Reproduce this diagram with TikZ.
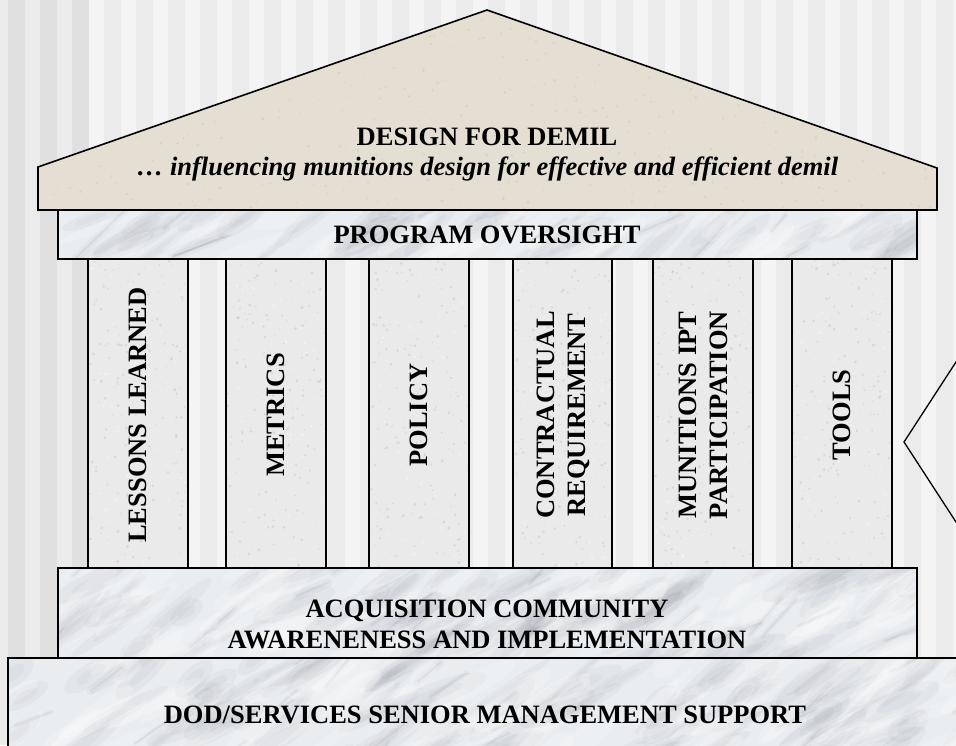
\documentclass[tikz,border=0pt]{standalone}
\usepackage{fontspec}
\setmainfont{Liberation Serif}

\definecolor{stripelight}{RGB}{244,244,244}
\definecolor{stripemid}{RGB}{235,235,235}
\definecolor{stripedark}{RGB}{224,224,224}
\definecolor{roofbeige}{RGB}{228,222,211}
\definecolor{roofgrain}{RGB}{196,186,170}
\definecolor{marblebase}{RGB}{234,237,240}
\definecolor{marblevein}{RGB}{105,110,118}
\definecolor{pillarstone}{RGB}{234,234,234}
\definecolor{pillargrain}{RGB}{185,185,185}

% cloudy marble: soft grey patches and a few thin veins; x1 y1 x2 y2 patches veins
\newcommand\marbleveins[6]{%
  \begin{scope}
    \clip (#1,#2) rectangle (#3,#4);
    \foreach \k in {1,...,#5}{
      \pgfmathsetmacro\vx{#1+rnd*(#3-#1)}
      \pgfmathsetmacro\vy{#2+rnd*(#4-#2)}
      \pgfmathsetmacro\ra{18+rnd*45}
      \pgfmathsetmacro\rb{4+rnd*9}
      \pgfmathsetmacro\ang{20+rnd*25}
      \fill[marblevein,opacity=0.05,rotate around={\ang:(\vx,\vy)}] (\vx,\vy) ellipse[x radius=\ra pt,y radius=\rb pt];
      \pgfmathsetmacro\rc{0.55*\ra}
      \pgfmathsetmacro\rd{0.5*\rb}
      \fill[marblevein,opacity=0.05,rotate around={\ang:(\vx,\vy)}] (\vx,\vy) ellipse[x radius=\rc pt,y radius=\rd pt];
    }
    \foreach \k in {1,...,#6}{
      \pgfmathsetmacro\vx{#1+rnd*(#3-#1)}
      \pgfmathsetmacro\vy{#2+rnd*(#4-#2)}
      \pgfmathsetmacro\vl{20+rnd*50}
      \pgfmathsetmacro\va{20+rnd*30}
      \pgfmathsetmacro\vw{0.8+rnd*1.6}
      \pgfmathsetmacro\vww{4*\vw}
      \draw[marblevein,opacity=0.05,line width=\vww pt,line cap=round] (\vx,\vy) -- ++(\va:\vl pt);
      \draw[marblevein,opacity=0.10,line width=\vw pt,line cap=round] (\vx,\vy) -- ++(\va:\vl pt);
    }
    \foreach \k in {1,...,#5}{
      \pgfmathsetmacro\vx{#1+rnd*(#3-#1)}
      \pgfmathsetmacro\vy{#2+rnd*(#4-#2)}
      \pgfmathsetmacro\ra{15+rnd*35}
      \pgfmathsetmacro\rb{4+rnd*8}
      \pgfmathsetmacro\ang{20+rnd*25}
      \fill[white,opacity=0.18,rotate around={\ang:(\vx,\vy)}] (\vx,\vy) ellipse[x radius=\ra pt,y radius=\rb pt];
    }
  \end{scope}}

% fine grain inside a rectangle: x1 y1 x2 y2 count colour
\newcommand\stonegrain[6]{%
  \begin{scope}
    \clip (#1,#2) rectangle (#3,#4);
    \foreach \k in {1,...,#5}{
      \pgfmathsetmacro\sx{#1+rnd*(#3-#1)}
      \pgfmathsetmacro\sy{#2+rnd*(#4-#2)}
      \pgfmathsetmacro\sr{0.5+rnd*1.1}
      \fill[#6,opacity=0.35] (\sx,\sy) circle[radius=\sr pt];
    }
  \end{scope}}

\begin{document}
\begin{tikzpicture}[x=1pt,y=-1pt,
  outline/.style={draw=black,line width=1.6pt},
  lbl/.style={font=\fontsize{26.5}{31}\selectfont\bfseries,align=center,inner sep=0pt},
  sublbl/.style={lbl,font=\fontsize{26.5}{31}\selectfont\bfseries\itshape},
  plbl/.style={lbl,rotate=90},
]
\pgfmathsetseed{2024}
\useasboundingbox (0,0) rectangle (956,745);
\clip (0,0) rectangle (956,745);

% striped backdrop
\fill[stripelight] (0,0) rectangle (956,745);
\fill[stripemid] (0,0) rectangle (88,745);
\foreach \i in {0,1,2} \fill[stripedark] ({8.3+32*\i},0) rectangle ++(16.5,745);
\foreach \i in {3,...,29} \fill[stripemid] ({8.3+32*\i},0) rectangle ++(16.5,745);

% pediment
\fill[roofbeige] (38,210) -- (38,167) -- (487,10) -- (937,168) -- (937,210) -- cycle;
\begin{scope}
  \clip (38,210) -- (38,167) -- (487,10) -- (937,168) -- (937,210) -- cycle;
  \foreach \k in {1,...,500}{
    \pgfmathsetmacro\sx{38+rnd*899}
    \pgfmathsetmacro\sy{10+rnd*200}
    \pgfmathsetmacro\sr{0.5+rnd*1.0}
    \fill[roofgrain,opacity=0.35] (\sx,\sy) circle[radius=\sr pt];
  }
\end{scope}
\draw[outline,line join=miter] (38,210) -- (38,167) -- (487,10) -- (937,168) -- (937,210) -- cycle;

% columns
\foreach \xa/\xb in {88/188, 226/326, 369/469, 513/612, 653/753, 792/892}{
  \fill[pillarstone] (\xa,259) rectangle (\xb,568);
  \stonegrain{\xa}{259}{\xb}{568}{160}{pillargrain}
  \stonegrain{\xa}{259}{\xb}{568}{90}{white}
  \draw[outline] (\xa,259) rectangle (\xb,568);
}

% entablature
\fill[marblebase] (58,210) rectangle (917,259);
\marbleveins{58}{210}{917}{259}{40}{12}
\draw[outline] (58,210) rectangle (917,259);

% upper step
\fill[marblebase] (58,568) rectangle (917,658);
\marbleveins{58}{568}{917}{658}{75}{20}
\draw[outline] (58,568) rectangle (917,658);

% lower step
\fill[marblebase] (8,658) rectangle (975,760);
\marbleveins{8}{658}{975}{760}{90}{24}
\draw[outline] (8,658) rectangle (975,760);

% callout pointer at the right edge
\coordinate (calloutTop) at (966,346.6);
\coordinate (calloutTip) at (904,442);
\coordinate (calloutBot) at (966,537.4);
\draw[draw=black,line width=1.3pt,line join=miter] (calloutTop) -- (calloutTip) -- (calloutBot);

% labels
\node[lbl,anchor=base] (roofTitle) at (487,145) {DESIGN FOR DEMIL};
\node[sublbl,anchor=base] (roofSub) at (487.5,175) {… influencing munitions design for effective and efficient demil};
\node[lbl,anchor=base] (oversight) at (487,243) {PROGRAM OVERSIGHT};

\node[plbl] (lessons) at (138,415) {LESSONS LEARNED};
\node[plbl] (metrics) at (276,415) {METRICS};
\node[plbl] (policy) at (419,415) {POLICY};
\node[plbl] (contract) at (563,415) {CONTRACTUAL\\REQUIREMENT};
\node[plbl] (ipt) at (703,415) {MUNITIONS IPT\\PARTICIPATION};
\node[plbl] (tools) at (842,415) {TOOLS};

\node[lbl,anchor=base] (acqA) at (487,617) {ACQUISITION COMMUNITY};
\node[lbl,anchor=base] (acqB) at (487,648) {AWARENENESS AND IMPLEMENTATION};
\node[lbl,anchor=base] (support) at (485,723) {DOD/SERVICES SENIOR MANAGEMENT SUPPORT};
\end{tikzpicture}
\end{document}
